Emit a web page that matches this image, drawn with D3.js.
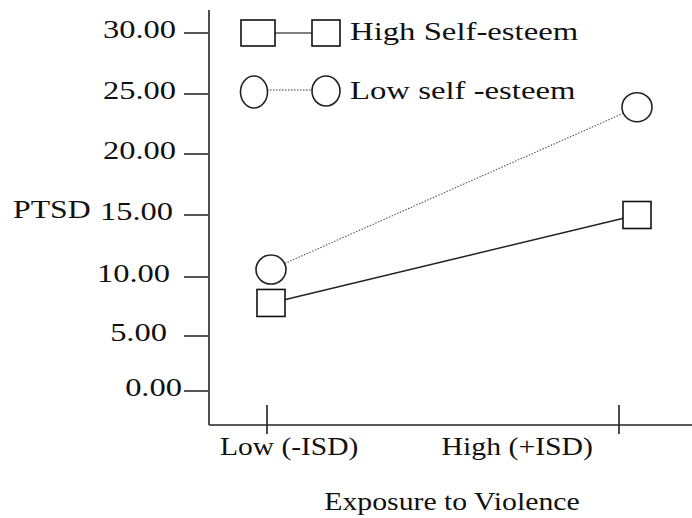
<!DOCTYPE html>
<html><head><meta charset="utf-8">
<script src="https://cdn.jsdelivr.net/npm/d3@7"></script>
<style>html,body{margin:0;padding:0;background:#fff}svg{display:block}text{font-family:"Liberation Serif","Times New Roman",serif;fill:#111}</style>
</head><body>
<script>
const categories = ["Low (-ISD)", "High (+ISD)"];
const seriesNames = ["High Self-esteem", "Low self -esteem"];
const highSelfEsteem = [7.8, 15.0];
const lowSelfEsteem = [10.6, 23.9];
const yTickValues = [0, 5, 10, 15, 20, 25, 30];
const yTickLabels = ["0.00", "5.00", "10.00", "15.00", "20.00", "25.00", "30.00"];
const yTitle = "PTSD";
const xTitle = "Exposure to Violence";

const W = 692, H = 518;
const svg = d3.select("body").append("svg").attr("width", W).attr("height", H);

const y = d3.scaleLinear().domain(yTickValues).range([391, 336, 277, 215, 154, 94, 33]);
const xAxisPos = d3.scalePoint().domain(categories).range([267, 619]);
const xMark = d3.scalePoint().domain(categories).range([271, 637]);
const axisX = 209, axisY = 425;
const FS = 25;

// axes lines
svg.append("line").attr("x1", axisX).attr("x2", axisX).attr("y1", 10).attr("y2", axisY)
  .attr("stroke", "#222").attr("stroke-width", 1.6);
svg.append("line").attr("x1", axisX).attr("x2", W).attr("y1", axisY).attr("y2", axisY)
  .attr("stroke", "#222").attr("stroke-width", 1.6);

// y ticks
const yt = svg.append("g");
yTickValues.forEach((v, i) => {
  yt.append("line").attr("x1", 184).attr("x2", axisX).attr("y1", y(v)).attr("y2", y(v))
    .attr("stroke", "#444").attr("stroke-width", 1.8);
  const rx = v === 0 ? 182 : (v === 5 ? 167 : (v === 10 ? 170 : (v === 15 ? 173 : 176)));
  yt.append("text").attr("text-anchor", "end").attr("font-size", FS)
    .attr("transform", `translate(${rx},${y(v) + 5}) scale(1.3,1)`).text(yTickLabels[i]);
});
svg.append("text").attr("font-size", FS)
  .attr("transform", `translate(13,${y(15) + 3}) scale(1.27,1)`).text(yTitle);

// x ticks
categories.forEach((c) => {
  svg.append("line").attr("x1", xAxisPos(c)).attr("x2", xAxisPos(c)).attr("y1", 405).attr("y2", 434)
    .attr("stroke", "#222").attr("stroke-width", 1.6);
});
svg.append("text").attr("text-anchor", "start").attr("font-size", FS)
  .attr("transform", `translate(${xAxisPos(categories[0]) - 47},455) scale(1.18,1)`).text(categories[0]);
svg.append("text").attr("text-anchor", "end").attr("font-size", FS)
  .attr("transform", `translate(${xAxisPos(categories[1]) - 26},455) scale(1.19,1)`).text(categories[1]);
svg.append("text").attr("text-anchor", "middle").attr("font-size", FS)
  .attr("transform", `translate(452,510) scale(1.19,1)`).text(xTitle);

// lines
const line = d3.line().x((d, i) => xMark(categories[i])).y(d => y(d));
svg.append("path").datum(lowSelfEsteem).attr("d", line).attr("fill", "none")
  .attr("stroke", "#555").attr("stroke-width", 1.1).attr("stroke-dasharray", "1.5,1.5");
svg.append("path").datum(highSelfEsteem).attr("d", line).attr("fill", "none")
  .attr("stroke", "#222").attr("stroke-width", 1.5);

// markers
svg.selectAll(".sq").data(highSelfEsteem).enter().append("rect")
  .attr("x", (d, i) => xMark(categories[i]) - 14).attr("y", d => y(d) - 13.5)
  .attr("width", 28).attr("height", 27).attr("fill", "#fff").attr("stroke", "#111").attr("stroke-width", 1.6);
svg.selectAll(".ci").data(lowSelfEsteem).enter().append("ellipse")
  .attr("cx", (d, i) => xMark(categories[i])).attr("cy", d => y(d))
  .attr("rx", 15).attr("ry", 14.5).attr("fill", "#fff").attr("stroke", "#222").attr("stroke-width", 1.6);

// legend
const lg = svg.append("g");
lg.append("line").attr("x1", 275).attr("x2", 312).attr("y1", 33).attr("y2", 33).attr("stroke", "#555").attr("stroke-width", 1.5);
lg.append("rect").attr("x", 241).attr("y", 20).attr("width", 34).attr("height", 26)
  .attr("fill", "#fff").attr("stroke", "#111").attr("stroke-width", 1.6);
lg.append("rect").attr("x", 312).attr("y", 20).attr("width", 28).attr("height", 26)
  .attr("fill", "#fff").attr("stroke", "#111").attr("stroke-width", 1.6);
lg.append("text").attr("font-size", FS).attr("transform", "translate(350,40) scale(1.31,1)").text(seriesNames[0]);

lg.append("line").attr("x1", 267).attr("x2", 312).attr("y1", 90).attr("y2", 90).attr("stroke", "#333")
  .attr("stroke-width", 1.2).attr("stroke-dasharray", "1.5,1.5");
lg.append("ellipse").attr("cx", 254).attr("cy", 92).attr("rx", 13.5).attr("ry", 16)
  .attr("fill", "#fff").attr("stroke", "#222").attr("stroke-width", 1.6);
lg.append("ellipse").attr("cx", 326).attr("cy", 91).attr("rx", 14).attr("ry", 15)
  .attr("fill", "#fff").attr("stroke", "#222").attr("stroke-width", 1.6);
lg.append("text").attr("font-size", FS).attr("transform", "translate(350,99) scale(1.31,1)").text(seriesNames[1]);
</script>
</body></html>
